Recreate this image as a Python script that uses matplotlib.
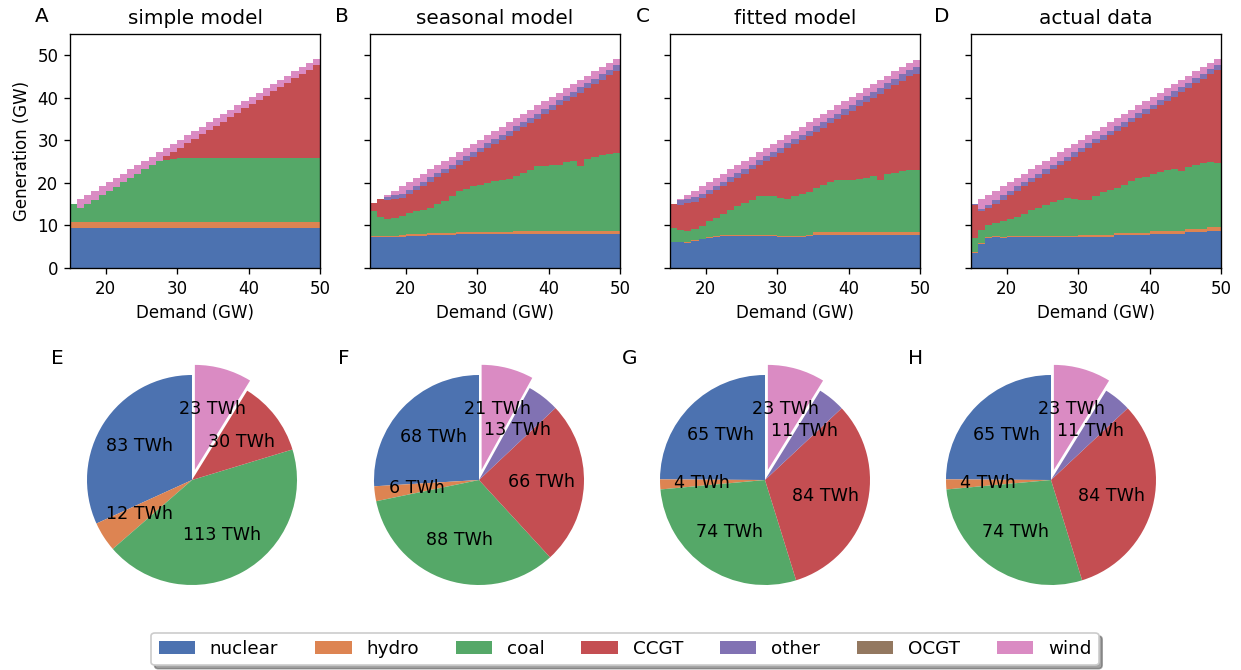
import numpy as np
import matplotlib.pyplot as plt
from matplotlib.patches import Patch

# demand bins (GW), left edges 15..49, 1 GW wide
edges = np.arange(15, 51)

names = ['nuclear', 'hydro', 'coal', 'CCGT', 'other', 'OCGT', 'wind']
colors = ['#4C72B0', '#DD8452', '#55A868', '#C44E52', '#8172B3', '#937860', '#DA8BC3']

# A: simple model
nuclear_A = [9.5, 9.5, 9.5, 9.5, 9.5, 9.5, 9.5, 9.5, 9.5, 9.5, 9.5, 9.5, 9.5, 9.5, 9.5, 9.5, 9.5, 9.5,
             9.5, 9.5, 9.5, 9.5, 9.5, 9.5, 9.5, 9.5, 9.5, 9.5, 9.5, 9.5, 9.5, 9.5, 9.5, 9.5, 9.5]
hydro_A = [1.3, 1.3, 1.3, 1.3, 1.3, 1.3, 1.3, 1.3, 1.3, 1.3, 1.3, 1.3, 1.3, 1.3, 1.3, 1.3, 1.3, 1.3,
           1.3, 1.3, 1.3, 1.3, 1.3, 1.3, 1.3, 1.3, 1.3, 1.3, 1.3, 1.3, 1.3, 1.3, 1.3, 1.3, 1.3]
coal_A = [4.2, 3.2, 4.2, 5.2, 6.3, 7.3, 8.3, 9.3, 10.4, 11.4, 12.4, 13.4, 14.4, 14.6, 14.9, 15.1, 15.1, 15.1,
          15.1, 15.1, 15.1, 15.1, 15.1, 15.1, 15.1, 15.1, 15.1, 15.1, 15.1, 15.1, 15.1, 15.1, 15.1, 15.1, 15.1]
ccgt_A = [0, 0, 0, 0, 0, 0, 0, 0, 0, 0, 0, 0, 0, 0.9, 1.6, 2.4, 3.4, 4.4,
          5.5, 6.5, 7.5, 8.5, 9.5, 10.5, 11.6, 12.6, 13.6, 14.6, 15.6, 16.6, 17.7, 18.7, 19.7, 20.7, 21.7]
other_A = [0, 0, 0, 0, 0, 0, 0, 0, 0, 0, 0, 0, 0, 0, 0, 0, 0, 0,
           0, 0, 0, 0, 0, 0, 0, 0, 0, 0, 0, 0, 0, 0, 0, 0, 0]
wind_A = [0, 2.2, 2.2, 2.2, 2.1, 2.1, 2.1, 2.1, 2.0, 2.0, 2.0, 2.0, 2.0, 1.9, 1.9, 1.9, 1.9, 1.9,
          1.8, 1.8, 1.8, 1.8, 1.8, 1.8, 1.7, 1.7, 1.7, 1.7, 1.7, 1.7, 1.6, 1.6, 1.6, 1.6, 1.6]

# B: seasonal model
nuclear_B = [7.2, 7.2, 7.2, 7.3, 7.4, 7.5, 7.6, 7.6, 7.7, 7.7, 7.8, 7.8, 7.9, 7.9, 7.9, 7.9, 7.9, 7.9,
             7.9, 7.9, 7.9, 7.9, 7.9, 7.9, 7.9, 7.9, 7.9, 7.9, 7.9, 7.9, 7.9, 7.9, 7.9, 7.9, 7.9]
hydro_B = [0.3, 0.3, 0.3, 0.3, 0.4, 0.4, 0.4, 0.4, 0.5, 0.5, 0.5, 0.5, 0.6, 0.6, 0.6, 0.6, 0.6, 0.6,
           0.6, 0.6, 0.7, 0.7, 0.7, 0.7, 0.7, 0.7, 0.7, 0.9, 0.9, 0.9, 0.9, 0.9, 0.9, 0.9, 0.9]
coal_B = [6.0, 4.5, 4.0, 4.2, 4.5, 5.1, 5.3, 5.7, 5.9, 6.9, 7.4, 8.6, 9.6, 10.1, 10.7, 11.1, 11.5, 11.9,
          12.1, 12.5, 13.1, 13.8, 14.4, 15.3, 15.3, 15.7, 15.7, 16.1, 16.3, 15.1, 16.9, 17.3, 17.7, 18.1, 18.3]
ccgt_B = [1.8, 4.2, 4.5, 4.4, 4.1, 4.4, 5.0, 5.6, 6.2, 6.2, 6.6, 6.3, 6.1, 6.6, 7.0, 7.6, 8.2, 8.8,
          9.5, 10.1, 10.4, 10.7, 11.1, 11.2, 12.2, 12.9, 13.9, 14.3, 15.1, 17.3, 16.5, 17.1, 17.7, 18.4, 19.2]
other_B = [0, 0, 0.8, 1.0, 1.0, 1.0, 1.0, 1.0, 1.0, 1.0, 1.0, 1.1, 1.1, 1.1, 1.1, 1.1, 1.1, 1.1,
           1.2, 1.2, 1.2, 1.2, 1.2, 1.2, 1.2, 1.2, 1.2, 1.2, 1.2, 1.3, 1.3, 1.3, 1.3, 1.3, 1.3]
wind_B = [0, 0, 0.4, 1.0, 1.8, 1.8, 1.9, 1.9, 1.9, 1.9, 1.9, 1.9, 1.9, 1.9, 1.9, 1.9, 1.9, 1.9,
          1.9, 1.9, 1.9, 1.9, 1.9, 1.9, 1.9, 1.8, 1.8, 1.8, 1.8, 1.7, 1.7, 1.7, 1.7, 1.6, 1.6]

# C: fitted model
nuclear_C = [6.0, 6.0, 5.9, 6.4, 6.7, 7.1, 7.3, 7.5, 7.5, 7.5, 7.5, 7.5, 7.5, 7.5, 7.5, 7.3, 7.3, 7.3,
             7.3, 7.5, 7.8, 7.8, 7.8, 7.8, 7.8, 7.8, 7.8, 7.8, 7.8, 7.8, 7.8, 7.8, 7.8, 7.8, 7.8]
hydro_C = [0.1, 0.1, 0.1, 0.1, 0.1, 0.3, 0.3, 0.3, 0.3, 0.3, 0.3, 0.3, 0.3, 0.3, 0.3, 0.3, 0.3, 0.3,
           0.3, 0.3, 0.6, 0.6, 0.6, 0.6, 0.6, 0.6, 0.6, 0.6, 0.6, 0.6, 0.6, 0.6, 0.6, 0.6, 0.6]
coal_C = [3.3, 2.9, 2.6, 2.7, 3.0, 3.6, 4.2, 4.8, 5.9, 6.7, 7.5, 8.3, 9.1, 9.2, 9.1, 8.9, 8.7, 9.3,
          9.7, 10.0, 10.4, 11.2, 11.8, 12.2, 12.4, 12.2, 12.6, 12.8, 13.2, 12.4, 13.6, 14.0, 14.4, 14.6, 14.6]
ccgt_C = [5.7, 5.9, 6.7, 6.4, 6.6, 6.4, 6.5, 6.7, 6.5, 6.7, 6.9, 7.1, 7.3, 8.1, 9.2, 10.6, 11.8, 12.2,
          12.8, 13.2, 13.2, 13.4, 13.8, 14.4, 15.2, 16.4, 17.0, 17.8, 18.4, 20.2, 20.0, 20.6, 21.2, 22.1, 22.7]
other_C = [0, 1.0, 0.9, 1.0, 1.0, 1.0, 1.0, 1.0, 1.1, 1.1, 1.1, 1.1, 1.1, 1.2, 1.2, 1.2, 1.2, 1.2,
           1.2, 1.3, 1.3, 1.3, 1.3, 1.3, 1.3, 1.4, 1.4, 1.4, 1.4, 1.4, 1.5, 1.5, 1.5, 1.5, 1.5]
wind_C = [0, 0.3, 1.0, 1.6, 1.8, 1.8, 1.9, 1.9, 1.9, 1.9, 1.9, 1.9, 1.9, 1.9, 1.9, 1.9, 1.9, 1.9,
          1.9, 1.9, 1.9, 1.9, 1.9, 1.9, 1.9, 1.8, 1.8, 1.8, 1.8, 1.8, 1.7, 1.7, 1.7, 1.6, 1.6]

# D: actual data
nuclear_D = [3.5, 5.7, 7.1, 7.2, 7.1, 7.3, 7.3, 7.3, 7.3, 7.3, 7.3, 7.3, 7.3, 7.3, 7.3, 7.3, 7.3, 7.3,
             7.3, 7.3, 7.7, 7.7, 7.7, 7.7, 7.7, 8.0, 8.0, 8.0, 8.0, 8.0, 8.4, 8.4, 8.4, 8.8, 8.8]
hydro_D = [0.2, 0.2, 0.3, 0.3, 0.3, 0.3, 0.3, 0.3, 0.3, 0.3, 0.3, 0.3, 0.3, 0.3, 0.3, 0.4, 0.4, 0.4,
           0.4, 0.4, 0.5, 0.5, 0.5, 0.5, 0.5, 0.6, 0.6, 0.6, 0.6, 0.6, 0.7, 0.7, 0.7, 0.9, 0.9]
coal_D = [3.4, 3.1, 2.8, 3.1, 3.6, 3.8, 4.4, 5.1, 6.1, 6.5, 7.2, 7.9, 8.5, 8.9, 8.7, 8.2, 8.4, 9.2,
          10.1, 10.6, 10.6, 11.4, 12.2, 13.0, 13.2, 13.4, 13.9, 14.4, 14.6, 14.2, 14.7, 15.2, 15.5, 15.2, 15.0]
ccgt_D = [7.7, 4.3, 3.9, 4.5, 5.1, 5.7, 6.2, 6.5, 6.5, 7.1, 7.4, 7.7, 8.1, 8.7, 9.9, 11.3, 12.2, 12.4,
          12.4, 12.9, 13.4, 13.6, 13.8, 14.1, 14.9, 15.3, 15.8, 16.3, 17.1, 18.5, 18.5, 19.1, 19.8, 20.6, 21.8]
other_D = [0.3, 0.6, 0.8, 0.9, 1.0, 1.0, 1.0, 1.0, 1.0, 1.0, 1.0, 1.0, 1.0, 1.0, 1.0, 1.0, 1.0, 1.0,
           1.1, 1.1, 1.1, 1.1, 1.1, 1.1, 1.1, 1.1, 1.1, 1.1, 1.2, 1.2, 1.2, 1.2, 1.2, 1.2, 1.2]
wind_D = [0, 2.3, 2.3, 2.2, 2.1, 2.1, 2.0, 2.0, 2.0, 2.0, 2.0, 2.0, 2.0, 2.0, 2.0, 2.0, 1.9, 1.9,
          1.9, 1.9, 1.9, 1.9, 1.9, 1.8, 1.8, 1.8, 1.8, 1.8, 1.7, 1.7, 1.7, 1.6, 1.6, 1.5, 1.5]

ocgt = [0] * 35

# annual totals (TWh) for pies: nuclear, hydro, coal, CCGT, other, OCGT, wind
pie_E = [83, 12, 113, 30, 0, 0, 23]
pie_F = [68, 6, 88, 66, 13, 0, 21]
pie_G = [65, 4, 74, 84, 11, 0, 23]
pie_H = [65, 4, 74, 84, 11, 0, 23]

panels = [
    ('A', 'simple model', [nuclear_A, hydro_A, coal_A, ccgt_A, other_A, ocgt, wind_A]),
    ('B', 'seasonal model', [nuclear_B, hydro_B, coal_B, ccgt_B, other_B, ocgt, wind_B]),
    ('C', 'fitted model', [nuclear_C, hydro_C, coal_C, ccgt_C, other_C, ocgt, wind_C]),
    ('D', 'actual data', [nuclear_D, hydro_D, coal_D, ccgt_D, other_D, ocgt, wind_D]),
]
pies = [('E', pie_E), ('F', pie_F), ('G', pie_G), ('H', pie_H)]

W, H = 1241, 670
fig = plt.figure(figsize=(W / 120, H / 120), dpi=120)

# top row: stacked step areas
ax_left = [70, 370, 670, 971]
letter_x = [42, 342, 643, 942]
for k, (letter, title, series) in enumerate(panels):
    ax = fig.add_axes([ax_left[k] / W, (H - 268) / H, 250 / W, 234 / H])
    ys = [np.append(s, s[-1]) for s in series]
    ax.stackplot(edges, *ys, colors=colors, step='post', linewidth=0)
    ax.set_xlim(15, 50)
    ax.set_ylim(0, 55)
    ax.set_xticks([20, 30, 40, 50])
    ax.set_yticks([0, 10, 20, 30, 40, 50])
    ax.set_xlabel('Demand (GW)')
    if k == 0:
        ax.set_ylabel('Generation (GW)')
    else:
        ax.set_yticklabels([])
    ax.set_title(title, fontsize=12)
    fig.text(letter_x[k] / W, 1 - 17 / H, letter, fontsize=12, ha='center', va='center')

# bottom row: pies
pie_cx = [192, 479, 765, 1051]
size = 262.5
for k, (letter, vals) in enumerate(pies):
    ax = fig.add_axes([(pie_cx[k] - size / 2) / W, (H - 480 - size / 2) / H, size / W, size / H])
    keep = [i for i, v in enumerate(vals) if v > 0]
    v = [vals[i] for i in keep]
    c = [colors[i] for i in keep]
    ex = [0.1 if names[i] == 'wind' else 0 for i in keep]
    wedges, texts, autotexts = ax.pie(v, colors=c, explode=ex, startangle=90,
                                      autopct='%d', textprops={'fontsize': 10.5})
    for t, val in zip(autotexts, v):
        t.set_text('%d TWh' % val)
    ax.set_xlim(-1.25, 1.25)
    ax.set_ylim(-1.25, 1.25)
    fig.text((pie_cx[k] - 135) / W, 1 - 358 / H, letter, fontsize=12, ha='center', va='center')

# legend
handles = [Patch(facecolor=col, label=n) for n, col in zip(names, colors)]
fig.legend(handles=handles, ncol=7, loc='center', bbox_to_anchor=(625 / W, 1 - 649 / H),
           fontsize=11, shadow=True, frameon=True)

fig.savefig('out.png', dpi=120)
